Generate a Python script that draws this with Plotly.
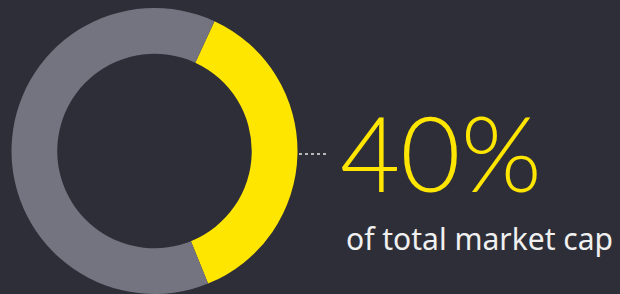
import plotly.graph_objects as go

labels = ["Market cap share", "Rest of market"]
values = [37, 63]
colors = ["#FFE600", "#747480"]
headline = "40%"
subtitle = "of total market cap"

W, H = 620, 294
BG = "#2E2E38"

fig = go.Figure()
fig.add_trace(go.Pie(
    labels=labels, values=values,
    marker=dict(colors=colors, line=dict(width=0)),
    hole=0.68, sort=False, direction="clockwise", rotation=24.8,
    textinfo="none", hoverinfo="label+percent", showlegend=False,
    domain=dict(x=[11.5 / W, 297.5 / W], y=[0, 286 / H]),
))

fig.add_shape(type="line", xref="paper", yref="paper",
              x0=299 / W, x1=326 / W, y0=1 - 154 / H, y1=1 - 154 / H,
              line=dict(color="#E6E6E6", width=1.5, dash="dot"))

fig.add_annotation(text=headline, xref="paper", yref="paper",
                   x=338 / W, y=1 - 151 / H, xanchor="left", yanchor="middle",
                   showarrow=False,
                   font=dict(family="Lato", size=104, color="#FFE600", weight=300))
fig.add_annotation(text=subtitle, xref="paper", yref="paper",
                   x=344 / W, y=1 - 238 / H, xanchor="left", yanchor="middle",
                   showarrow=False,
                   font=dict(family="Noto Sans", size=30, color="#F0F0F0"))

fig.update_layout(width=W, height=H, margin=dict(l=0, r=0, t=0, b=0),
                  paper_bgcolor=BG, plot_bgcolor=BG)
fig.write_html("out.html", config={"displayModeBar": False},
               post_script="document.body.style.margin='0';"
                           "document.body.style.overflow='hidden';")
